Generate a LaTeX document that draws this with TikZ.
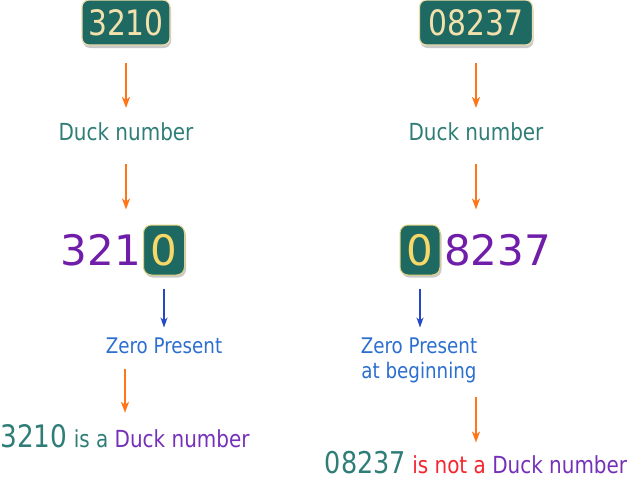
\documentclass[tikz,border=0pt]{standalone}
\usepackage{fontspec}
\setmainfont{DejaVu Sans}[FakeStretch=0.85]
\newfontfamily\wfont{DejaVu Sans}
\usetikzlibrary{arrows.meta,shadows}
\definecolor{tealtxt}{HTML}{2F7D77}
\definecolor{boxfill}{HTML}{1E6A63}
\definecolor{boxborder}{HTML}{EEDCAA}
\definecolor{boxtext}{HTML}{F3E1AD}
\definecolor{zborder}{HTML}{E3D27E}
\definecolor{zdigit}{HTML}{F8D867}
\definecolor{purp}{HTML}{701EAA}
\definecolor{purp2}{HTML}{7430B8}
\definecolor{redtxt}{HTML}{F5252F}
\definecolor{bluetxt}{HTML}{2C6FCF}
\definecolor{bluearr}{HTML}{2548C8}
\definecolor{orng}{HTML}{FF7518}
\tikzset{
  topbox/.style={rounded corners=7pt, fill=boxfill, draw=boxborder, line width=1.2pt,
    text=boxtext, font=\fontsize{35}{35}\selectfont, inner sep=0pt, minimum height=45pt,
    drop shadow={shadow xshift=1pt, shadow yshift=-3pt, opacity=0.35, fill=black!60}},
  zbox/.style={rounded corners=8pt, fill=boxfill, draw=zborder, line width=1pt,
    text=zdigit, font=\wfont\fontsize{42}{42}\selectfont, inner sep=0pt,
    minimum width=41pt, minimum height=50pt,
    drop shadow={shadow xshift=1.5pt, shadow yshift=-2.5pt, opacity=0.35, fill=black!60}},
  bignum/.style={font=\wfont\fontsize{42}{42}\selectfont, text=purp, inner sep=0pt},
  lbl/.style={font=\fontsize{23.5}{23.5}\selectfont, text=tealtxt, inner sep=0pt, anchor=base},
  zlbl/.style={font=\fontsize{21.5}{25}\selectfont, text=bluetxt, inner sep=0pt, align=center, anchor=north},
  reslbl/.style={inner sep=0pt, anchor=base, text=tealtxt},
  oarr/.style={draw=orng, line width=1.8pt, -{Stealth[length=11pt,width=8pt,inset=3pt]}},
  barr/.style={draw=bluearr, line width=1.5pt, -{Stealth[length=10pt,width=7pt,inset=3pt]}}
}
\begin{document}
\begin{tikzpicture}[x=1pt,y=-1pt]
\useasboundingbox (0,0) rectangle (634,479);
% left column
\node[topbox, minimum width=88pt] (box1) at (126,22.5) {3210};
\node[lbl] (duck1) at (126,140) {Duck number};
\node[bignum, anchor=base east] (num1) at (141,265) {321};
\node[zbox] (zero1) at (164,250) {0};
\node[zlbl] (zp1) at (164,337.5) {Zero Present};
\node[reslbl] (res1) at (125,447) {{\fontsize{31}{31}\selectfont 3210}{\fontsize{23.5}{23.5}\selectfont{} is a \textcolor{purp2}{Duck number}}};
% right column
\node[topbox, minimum width=113pt] (box2) at (476,22.5) {08237};
\node[lbl] (duck2) at (476,140) {Duck number};
\node[zbox, minimum width=40pt] (zero2) at (420,250) {0};
\node[bignum, anchor=base west] (num2) at (444,265) {8237};
\node[zlbl] (zp2) at (419,337.5) {Zero Present\\at beginning};
\node[reslbl] (res2) at (476,473) {{\fontsize{30}{30}\selectfont 08237}{\fontsize{23.5}{23.5}\selectfont\color{redtxt}{} is not a \textcolor{purp2}{Duck number}}};
% connectors left
\draw[oarr, shorten <=17.5pt, shorten >=14pt] (box1.south) -- (duck1.north);
\draw[oarr, shorten <=23pt, shorten >=15pt] (duck1.south) -- (duck1.south |- zero1.north);
\draw[barr, shorten <=13pt, shorten >=10pt] (zero1.south) -- (zp1.north);
\draw[oarr, shorten <=15pt, shorten >=11pt] (res1.north |- zp1.south) -- (res1.north);
% connectors right
\draw[oarr, shorten <=17.5pt, shorten >=14pt] (box2.south) -- (duck2.north);
\draw[oarr, shorten <=23pt, shorten >=15pt] (duck2.south) -- (duck2.south |- zero2.north);
\draw[barr, shorten <=13pt, shorten >=10pt] (zero2.south) -- (zero2.south |- zp2.north);
\draw[oarr, shorten <=14pt, shorten >=8pt] (res2.north |- zp2.south) -- (res2.north);
\end{tikzpicture}
\end{document}
